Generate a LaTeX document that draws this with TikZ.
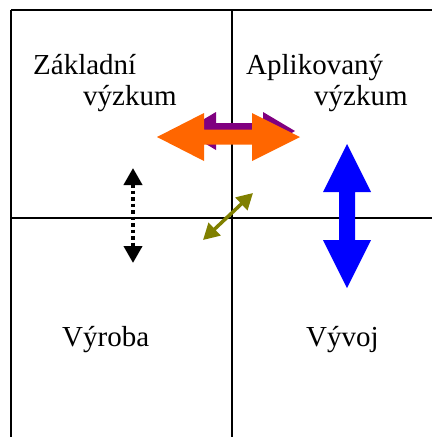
\documentclass[tikz,border=0pt]{standalone}
\usepackage{fontspec}
\setmainfont{Liberation Serif}
\usetikzlibrary{arrows.meta}
\definecolor{blockorange}{HTML}{FF6600}
\definecolor{blockpurple}{HTML}{800080}
\definecolor{blockblue}{HTML}{0000FF}
\definecolor{linkolive}{HTML}{808000}
\begin{document}
\begin{tikzpicture}[x=1pt,y=-1pt]
\tikzstyle{every node}=[inner sep=0pt,font=\fontsize{29}{31}\selectfont];
\tikzstyle{grid}=[line width=2.2pt];
\useasboundingbox (0,0) rectangle (432,437);

  \coordinate (tl) at (11,10);
  \coordinate (tm) at (232,10);
  \coordinate (tr) at (432,10);
  \coordinate (ml) at (11,218);
  \coordinate (mr) at (432,218);
  \coordinate (bl) at (11,437);
  \coordinate (bm) at (232,437);

  \foreach \from/\to in {tl/tr, tl/bl, tm/bm, ml/mr}
\draw [grid] (\from) -- (\to);

  \node[anchor=base west] (a) at (33,74) {Základní};
  \node[anchor=base west] (b) at (83,105) {výzkum};
  \node[anchor=base west] (c) at (246,74) {Aplikovaný};
  \node[anchor=base west] (d) at (314,105) {výzkum};
  \node[anchor=base west] (e) at (62,346) {Výroba};
  \node[anchor=base west] (f) at (306,346) {Vývoj};

   % block arrows
   \fill [blockpurple] (184,131) -- (216,112) -- (216,123) -- (263,123) -- (263,112)
     -- (295,131) -- (263,150) -- (263,139) -- (216,139) -- (216,150) -- cycle;
   \fill [blockorange] (157,137) -- (204,113) -- (204,129.5) -- (252,129.5) -- (252,113)
     -- (300,137) -- (252,161) -- (252,144.5) -- (204,144.5) -- (204,161) -- cycle;
   \fill [blockblue] (347,144) -- (371,192) -- (355,192) -- (355,240) -- (371,240)
     -- (347,288) -- (323,240) -- (339,240) -- (339,192) -- (323,192) -- cycle;

  \coordinate (p) at (133,168);
  \coordinate (q) at (133,263);
  \coordinate (r) at (203,240);
  \coordinate (s) at (253,193);

   \draw [{Triangle[length=17pt,width=18pt]}-{Triangle[length=17pt,width=18pt]}, line width=4pt, dash pattern=on 3.5pt off 3pt] (p) to (q);
   \draw [{Triangle[length=16pt,width=17pt]}-{Triangle[length=16pt,width=17pt]}, line width=3.5pt, linkolive] (r) to (s);

\end{tikzpicture}
\end{document}
